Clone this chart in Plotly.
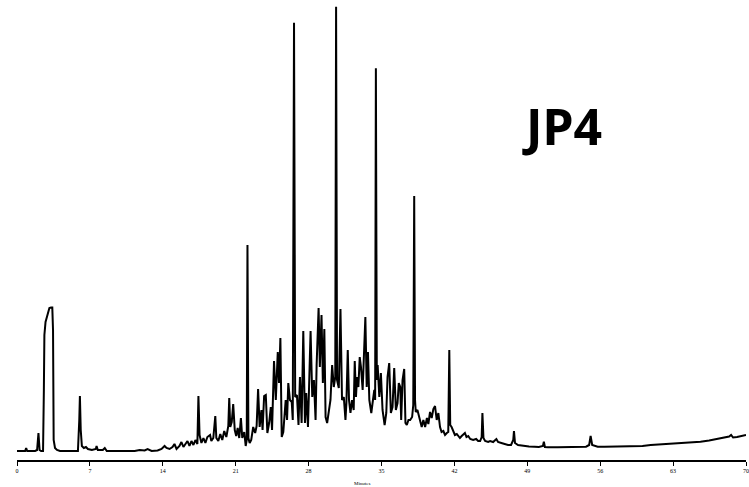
import plotly.graph_objects as go

# Retention time (minutes) and detector response
time_min = [
    0.00, 0.78, 0.88, 0.98, 1.74, 1.93, 2.06, 2.17, 2.31, 2.50,
    2.58, 2.63, 2.74, 2.86, 2.98, 3.11, 3.27, 3.39, 3.46, 3.52,
    3.65, 3.84, 4.13, 4.61, 5.09, 5.85, 5.98, 6.04, 6.12, 6.23,
    6.42, 6.62, 6.81, 7.19, 7.57, 7.64, 7.76, 8.24, 8.43, 8.62,
    9.39, 10.34, 10.82, 11.30, 11.78, 12.26, 12.54, 12.93, 13.50, 13.88,
    14.17, 14.36, 14.65, 14.93, 15.12, 15.32, 15.60, 15.79, 15.98, 16.18,
    16.37, 16.56, 16.75, 16.94, 17.13, 17.32, 17.42, 17.53, 17.71, 17.90,
    18.09, 18.28, 18.54, 18.66, 18.85, 19.04, 19.14, 19.33, 19.52, 19.71,
    19.90, 20.10, 20.29, 20.38, 20.48, 20.62, 20.76, 20.91, 21.05, 21.19,
    21.34, 21.50, 21.63, 21.82, 21.96, 22.06, 22.13, 22.22, 22.34, 22.49,
    22.68, 22.87, 23.01, 23.15, 23.30, 23.47, 23.58, 23.73, 23.89, 24.04,
    24.21, 24.37, 24.49, 24.68, 24.85, 25.04, 25.16, 25.29, 25.42, 25.57,
    25.80, 25.93, 26.05, 26.21, 26.38, 26.48, 26.60, 26.71, 26.88, 27.03,
    27.17, 27.33, 27.49, 27.65, 27.77, 27.94, 28.19, 28.35, 28.51, 28.67,
    28.77, 28.96, 29.08, 29.24, 29.37, 29.51, 29.63, 29.78, 29.94, 30.10,
    30.26, 30.42, 30.56, 30.64, 30.73, 30.90, 31.06, 31.21, 31.38, 31.54,
    31.63, 31.76, 31.88, 32.02, 32.17, 32.33, 32.43, 32.55, 32.65, 32.78,
    32.91, 33.03, 33.19, 33.36, 33.45, 33.58, 33.70, 33.83, 34.02, 34.18,
    34.31, 34.39, 34.46, 34.55, 34.63, 34.79, 34.94, 35.10, 35.30, 35.46,
    35.58, 35.74, 35.90, 36.06, 36.22, 36.38, 36.54, 36.66, 36.80, 36.89,
    37.02, 37.18, 37.30, 37.43, 37.59, 37.75, 37.94, 38.05, 38.14, 38.22,
    38.29, 38.45, 38.64, 38.86, 39.02, 39.19, 39.36, 39.50, 39.66, 39.82,
    39.98, 40.14, 40.30, 40.46, 40.62, 40.77, 40.94, 41.10, 41.27, 41.41,
    41.51, 41.60, 41.73, 41.89, 42.05, 42.23, 42.37, 42.53, 42.70, 42.85,
    43.01, 43.16, 43.33, 43.52, 43.80, 44.09, 44.28, 44.47, 44.62, 44.69,
    44.79, 44.95, 45.24, 45.43, 45.72, 46.03, 46.19, 46.51, 46.77, 47.15,
    47.44, 47.65, 47.72, 47.82, 48.11, 48.75, 49.16, 49.70, 50.11, 50.50,
    50.59, 50.69, 50.97, 51.93, 52.89, 53.53, 54.13, 54.64, 54.94, 55.08,
    55.23, 55.44, 55.76, 56.40, 57.67, 59.26, 60.06, 60.85, 61.68, 62.45,
    63.21, 64.04, 64.84, 65.63, 66.46, 67.23, 67.90, 68.38, 68.57, 68.76,
    69.14, 69.52, 70.00,
]

signal = [
    9, 9, 12, 9, 9, 10, 27, 10, 9, 9,
    70, 125, 138, 143, 149, 152, 152.5, 152.5, 130, 20,
    12, 10, 9, 9, 9, 9, 40, 64, 30, 14,
    12, 13, 11, 10, 11, 14, 10, 10, 12, 9,
    9, 9, 9.5, 9, 10, 9.5, 11, 9, 9.5, 11,
    14, 12, 11, 13, 16, 11, 14, 18, 13, 16,
    19, 14, 19, 15, 20, 16, 64, 25, 17, 22,
    17, 23, 25, 19, 22, 44, 22, 19, 26, 20,
    29, 23, 34, 62, 33, 38, 56, 30, 24, 32,
    22, 42, 22, 28, 14, 20, 215, 22, 17, 20,
    33, 27, 34, 71, 33, 50, 30, 64, 65, 27,
    37, 53, 30, 99, 60, 108, 77, 122, 23, 28,
    60, 40, 77, 60, 58, 40, 437.3, 63, 65, 35,
    83, 37, 129, 37, 67, 33, 129, 63, 80, 40,
    95, 152, 93, 145, 77, 131, 43, 37, 47, 60,
    95, 73, 83, 453.3, 80, 72, 151, 60, 63, 40,
    57, 110, 60, 47, 60, 50, 99, 63, 83, 73,
    103, 93, 70, 120, 143, 73, 108, 60, 47, 60,
    70, 60, 391.7, 80, 95, 63, 87, 50, 35, 47,
    83, 97, 47, 53, 92, 50, 57, 77, 73, 40,
    80, 91, 37, 35, 40, 40, 43, 55, 264, 60,
    48, 50, 43, 33, 40, 33, 42, 36, 48, 42,
    51, 54, 40, 47, 33, 28, 29, 25, 27, 28,
    110, 35, 33, 28, 25, 26, 24, 22, 24, 26,
    27, 23, 24, 21, 20, 21, 19, 19, 23, 47,
    22, 19, 18, 19, 18, 21, 18, 17, 16, 15,
    15, 20, 29, 17, 15, 14, 13.5, 13.3, 13, 14,
    18.3, 13, 12.7, 12.7, 12.7, 12.7, 13, 13.3, 15, 24,
    15, 14, 13.3, 13.3, 13.3, 13.5, 14, 15, 15.5, 16,
    16.2, 16.7, 17.5, 18.3, 19.5, 21, 22, 23.5, 25, 22.5,
    23, 24, 25,
]

tick_values = [0, 7, 14, 21, 28, 35, 42, 49, 56, 63, 70]
tick_labels = ["0", "7", "14", "21", "28", "35", "42", "49", "56", "63", "70"]

sample_label = "JP4"
x_title = "Minutes"

assert len(time_min) == len(signal)

fig = go.Figure()
fig.add_trace(go.Scatter(
    x=time_min, y=signal, mode="lines",
    line=dict(color="black", width=2),
    hoverinfo="skip", showlegend=False,
))

fig.add_annotation(
    x=52.3, y=334, xref="x", yref="y", text=sample_label, showarrow=False,
    font=dict(family="Comic Sans MS, Noto Sans, sans-serif", size=50,
              color="black", weight="bold"),
)

fig.add_annotation(
    x=0.473, y=-0.05, xref="paper", yref="paper", text=x_title,
    showarrow=False, yanchor="middle",
    font=dict(family="Liberation Serif, serif", size=5, color="black"),
)

fig.update_layout(
    width=749, height=487,
    margin=dict(l=17, r=3, t=0, b=27, autoexpand=False),
    paper_bgcolor="white", plot_bgcolor="white",
    xaxis=dict(
        range=[0, 70], showgrid=False, zeroline=False, automargin=False,
        showline=True, linecolor="black", linewidth=2,
        ticks="outside", ticklen=4, tickcolor="black", tickwidth=1,
        tickvals=tick_values, ticktext=tick_labels,
        tickfont=dict(family="Liberation Serif, serif", size=6, color="black"),
    ),
    yaxis=dict(range=[0, 460], visible=False, automargin=False),
)

fig.write_html(
    "out.html",
    config={"displayModeBar": False, "staticPlot": True},
    post_script="document.body.style.margin='0px';document.body.style.overflow='hidden';",
)
